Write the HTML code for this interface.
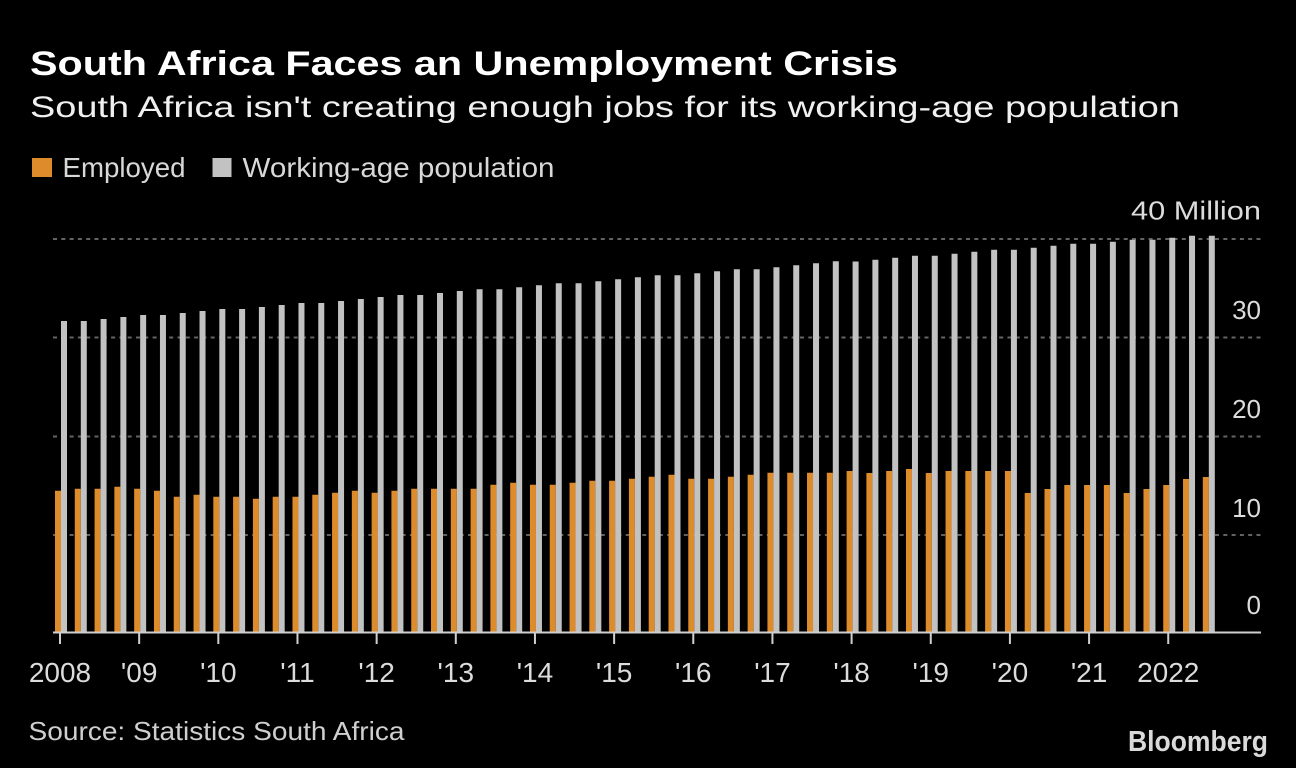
<!DOCTYPE html>
<html>
<head>
<meta charset="utf-8">
<style>
  html, body { margin:0; padding:0; background:#000; }
  body { width:1296px; height:768px; overflow:hidden; }
  svg { display:block; }
  text { font-family: "Liberation Sans", "DejaVu Sans", sans-serif; }
  .ax { fill:#dcdcdc; font-size:28px; text-anchor:middle; }
  .ay { fill:#dcdcdc; font-size:26px; text-anchor:end; }
</style>
</head>
<body>
<svg width="1296" height="768" viewBox="0 0 1296 768" xmlns="http://www.w3.org/2000/svg">
  <rect x="0" y="0" width="1296" height="768" fill="#000"/>

  <text x="30" y="75" font-size="34" font-weight="bold" fill="#ffffff" textLength="868" lengthAdjust="spacingAndGlyphs">South Africa Faces an Unemployment Crisis</text>
  <text x="30" y="117" font-size="30" fill="#f0f0f0" textLength="1150" lengthAdjust="spacingAndGlyphs">South Africa isn't creating enough jobs for its working-age population</text>

  <rect x="32" y="158" width="20" height="19" fill="#de8c2b"/>
  <text x="62.5" y="177" font-size="28" fill="#d8d8d8" textLength="123" lengthAdjust="spacingAndGlyphs">Employed</text>
  <rect x="212.5" y="158" width="19" height="19" fill="#c2c2c2"/>
  <text x="242.5" y="177" font-size="28" fill="#d8d8d8" textLength="312" lengthAdjust="spacingAndGlyphs">Working-age population</text>

  <g stroke="#636363" stroke-width="2" stroke-dasharray="4 4.3">
    <line x1="53" y1="239" x2="1261" y2="239"/>
    <line x1="53" y1="337.5" x2="1261" y2="337.5"/>
    <line x1="53" y1="436.5" x2="1261" y2="436.5"/>
    <line x1="53" y1="535" x2="1261" y2="535"/>
  </g>

  <text class="ay" x="1261" y="219.5" textLength="130" lengthAdjust="spacingAndGlyphs">40 Million</text>
  <text class="ay" x="1261" y="319">30</text>
  <text class="ay" x="1261" y="418">20</text>
  <text class="ay" x="1261" y="517">10</text>
  <text class="ay" x="1261" y="614">0</text>

  <path fill="#de8c2b" d="M55,490.7h6V633h-6Z M74.79,488.7h6V633h-6Z M94.58,488.7h6V633h-6Z M114.37,486.7h6V633h-6Z M134.16,488.7h6V633h-6Z M153.95,490.7h6V633h-6Z M173.74,496.7h6V633h-6Z M193.53,494.7h6V633h-6Z M213.32,496.7h6V633h-6Z M233.11,496.7h6V633h-6Z M252.9,498.7h6V633h-6Z M272.69,496.7h6V633h-6Z M292.48,496.7h6V633h-6Z M312.27,494.7h6V633h-6Z M332.06,492.7h6V633h-6Z M351.85,490.7h6V633h-6Z M371.64,492.7h6V633h-6Z M391.43,490.7h6V633h-6Z M411.22,488.7h6V633h-6Z M431.01,488.7h6V633h-6Z M450.8,488.7h6V633h-6Z M470.59,488.7h6V633h-6Z M490.38,484.7h6V633h-6Z M510.17,482.7h6V633h-6Z M529.96,484.7h6V633h-6Z M549.75,484.7h6V633h-6Z M569.54,482.7h6V633h-6Z M589.33,480.7h6V633h-6Z M609.12,480.7h6V633h-6Z M628.91,478.7h6V633h-6Z M648.7,476.7h6V633h-6Z M668.49,474.7h6V633h-6Z M688.28,478.7h6V633h-6Z M708.07,478.7h6V633h-6Z M727.86,476.7h6V633h-6Z M747.65,474.7h6V633h-6Z M767.44,472.7h6V633h-6Z M787.23,472.7h6V633h-6Z M807.02,472.7h6V633h-6Z M826.81,472.7h6V633h-6Z M846.6,471h6V633h-6Z M866.39,473h6V633h-6Z M886.18,471h6V633h-6Z M905.97,469h6V633h-6Z M925.76,473h6V633h-6Z M945.55,471h6V633h-6Z M965.34,471h6V633h-6Z M985.13,471h6V633h-6Z M1004.92,471h6V633h-6Z M1024.71,493h6V633h-6Z M1044.5,489h6V633h-6Z M1064.29,485h6V633h-6Z M1084.08,485h6V633h-6Z M1103.87,485h6V633h-6Z M1123.66,493h6V633h-6Z M1143.45,489h6V633h-6Z M1163.24,485h6V633h-6Z M1183.03,479h6V633h-6Z M1202.82,477h6V633h-6Z"/>

  <path fill="#c2c2c2" d="M61,321h6V633h-6Z M80.79,321h6V633h-6Z M100.58,319h6V633h-6Z M120.37,317h6V633h-6Z M140.16,315h6V633h-6Z M159.95,315h6V633h-6Z M179.74,313h6V633h-6Z M199.53,311h6V633h-6Z M219.32,309h6V633h-6Z M239.11,309h6V633h-6Z M258.9,307h6V633h-6Z M278.69,305h6V633h-6Z M298.48,303h6V633h-6Z M318.27,303h6V633h-6Z M338.06,301h6V633h-6Z M357.85,299h6V633h-6Z M377.64,297h6V633h-6Z M397.43,295h6V633h-6Z M417.22,295h6V633h-6Z M437.01,293h6V633h-6Z M456.8,291h6V633h-6Z M476.59,289.3h6V633h-6Z M496.38,289.3h6V633h-6Z M516.17,287.3h6V633h-6Z M535.96,285.3h6V633h-6Z M555.75,283.3h6V633h-6Z M575.54,283.3h6V633h-6Z M595.33,281.3h6V633h-6Z M615.12,279.3h6V633h-6Z M634.91,277.3h6V633h-6Z M654.7,275.3h6V633h-6Z M674.49,275.3h6V633h-6Z M694.28,273.3h6V633h-6Z M714.07,271.3h6V633h-6Z M733.86,269.3h6V633h-6Z M753.65,269.3h6V633h-6Z M773.44,267.3h6V633h-6Z M793.23,265.3h6V633h-6Z M813.02,263.3h6V633h-6Z M832.81,261.3h6V633h-6Z M852.6,261.5h6V633h-6Z M872.39,259.7h6V633h-6Z M892.18,257.7h6V633h-6Z M911.97,255.7h6V633h-6Z M931.76,255.7h6V633h-6Z M951.55,253.7h6V633h-6Z M971.34,251.7h6V633h-6Z M991.13,249.7h6V633h-6Z M1010.92,249.7h6V633h-6Z M1030.71,247.7h6V633h-6Z M1050.5,245.7h6V633h-6Z M1070.29,243.7h6V633h-6Z M1090.08,243.7h6V633h-6Z M1109.87,241.7h6V633h-6Z M1129.66,239.7h6V633h-6Z M1149.45,239.7h6V633h-6Z M1169.24,237.7h6V633h-6Z M1189.03,235.7h6V633h-6Z M1208.82,235.7h6V633h-6Z"/>

  <line x1="53" y1="632.5" x2="1261" y2="632.5" stroke="#cfcfcf" stroke-width="2"/>

  <path stroke="#cfcfcf" stroke-width="2" fill="none" d="M60,633V644 M139.16,633V644 M218.32,633V644 M297.48,633V644 M376.64,633V644 M455.8,633V644 M534.96,633V644 M614.12,633V644 M693.28,633V644 M772.44,633V644 M851.6,633V644 M930.76,633V644 M1009.92,633V644 M1089.08,633V644 M1168.24,633V644"/>

  <text class="ax" x="60" y="682">2008</text>
  <text class="ax" x="139.16" y="682">'09</text>
  <text class="ax" x="218.32" y="682">'10</text>
  <text class="ax" x="297.48" y="682">'11</text>
  <text class="ax" x="376.64" y="682">'12</text>
  <text class="ax" x="455.8" y="682">'13</text>
  <text class="ax" x="534.96" y="682">'14</text>
  <text class="ax" x="614.12" y="682">'15</text>
  <text class="ax" x="693.28" y="682">'16</text>
  <text class="ax" x="772.44" y="682">'17</text>
  <text class="ax" x="851.6" y="682">'18</text>
  <text class="ax" x="930.76" y="682">'19</text>
  <text class="ax" x="1009.92" y="682">'20</text>
  <text class="ax" x="1089.08" y="682">'21</text>
  <text class="ax" x="1168.24" y="682">2022</text>

  <text x="28.5" y="740" font-size="26" fill="#cfcfcf" textLength="376" lengthAdjust="spacingAndGlyphs">Source: Statistics South Africa</text>

  <text x="1128" y="751" font-size="29" font-weight="bold" fill="#dadada" textLength="140" lengthAdjust="spacingAndGlyphs">Bloomberg</text>
</svg>
</body>
</html>
